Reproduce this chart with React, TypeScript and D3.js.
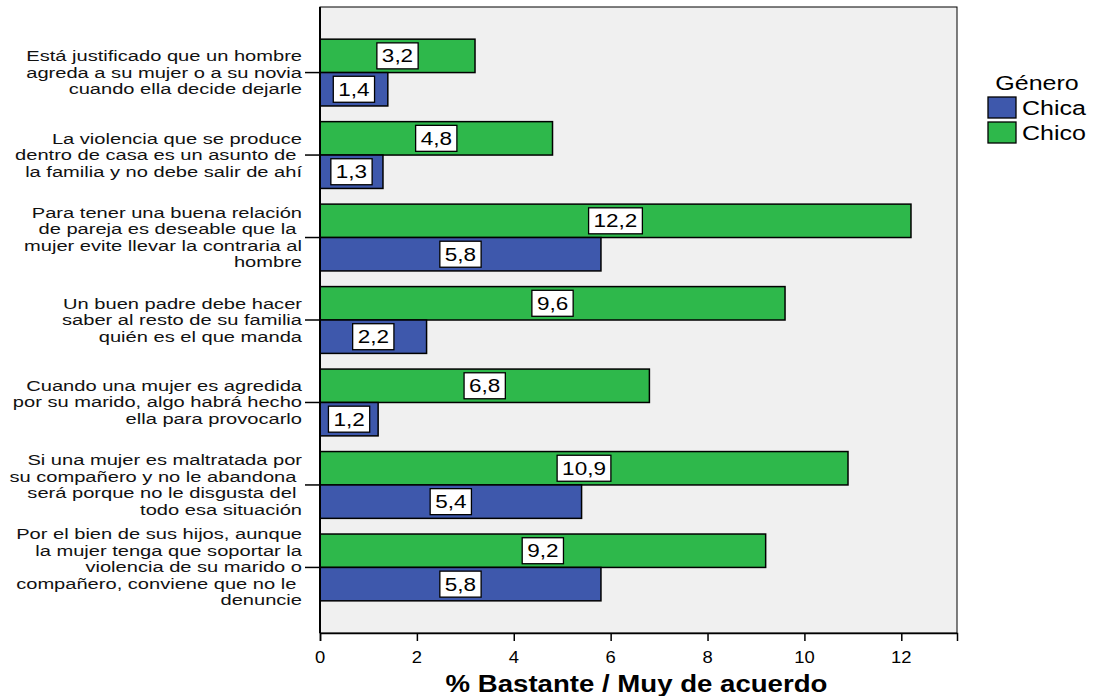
import React, { useEffect, useRef } from 'react';
import * as d3 from 'd3';

// item labels (each line as shown in the original)
const items = [
  ['Está justificado que un hombre', 'agreda a su mujer o a su novia', 'cuando ella decide dejarle'],
  ['La violencia que se produce', 'dentro de casa es un asunto de ', 'la familia y no debe salir de ahí'],
  ['Para tener una buena relación', 'de pareja es deseable que la ', 'mujer evite llevar la contraria al', 'hombre'],
  ['Un buen padre debe hacer', 'saber al resto de su familia', 'quién es el que manda'],
  ['Cuando una mujer es agredida', 'por su marido, algo habrá hecho', 'ella para provocarlo'],
  ['Si una mujer es maltratada por', 'su compañero y no le abandona ', 'será porque no le disgusta del ', 'todo esa situación'],
  ['Por el bien de sus hijos, aunque', 'la mujer tenga que soportar la', 'violencia de su marido o', 'compañero, conviene que no le ', 'denuncie'],
];
const chico = [3.2, 4.8, 12.2, 9.6, 6.8, 10.9, 9.2];
const chica = [1.4, 1.3, 5.8, 2.2, 1.2, 5.4, 5.8];
const xTicks = [0, 2, 4, 6, 8, 10, 12];
const seriesNames = ['Chica', 'Chico'];
const colors = ['#3E58AC', '#2EB84B'];

const font = 'Liberation Sans, Arial, sans-serif';

// text that is stretched horizontally like the original rendering
const wideText = (parent, x, y, str, size, sx, anchor = 'start', weight = 'normal') =>
  parent.append('text')
    .attr('transform', `translate(${x},${y}) scale(${sx},1)`)
    .attr('text-anchor', anchor).attr('font-family', font).attr('font-size', size)
    .attr('font-weight', weight).style('white-space', 'pre').attr('fill', '#000')
    .text(str);

const App = () => {
  const svgRef = useRef(null);

  useEffect(() => {
    const W = 1093, H = 696;
    const m = { top: 7, right: 136, bottom: 63, left: 320 };
    const svg = d3.select(svgRef.current);
    svg.selectAll('*').remove();

    const x = d3.scaleLinear().domain([0, 13.15]).range([m.left, W - m.right]);
    const idx = d3.range(items.length);
    const y = d3.scaleBand().domain(idx.map(String)).range([m.top, H - m.bottom])
      .paddingInner(0.19).paddingOuter(0.39);

    svg.append('rect').attr('x', m.left).attr('y', m.top)
      .attr('width', W - m.right - m.left).attr('height', H - m.bottom - m.top)
      .attr('fill', '#F0F0F0').attr('stroke', '#000').attr('stroke-width', 1);

    const bh = y.bandwidth() / 2;
    const g = svg.append('g');
    idx.forEach((i) => {
      const y0 = y(String(i));
      [[chico[i], 1, y0], [chica[i], 0, y0 + bh]].forEach(([v, s, yy]) => {
        g.append('rect').attr('x', x(0)).attr('y', yy)
          .attr('width', x(v) - x(0)).attr('height', bh)
          .attr('fill', colors[s]).attr('stroke', '#000').attr('stroke-width', 1.5);
        const label = d3.format('.1f')(v).replace('.', ',');
        const cx = (x(0) + x(v)) / 2;
        const box = g.append('rect').attr('y', yy + bh / 2 - 13).attr('height', 26)
          .attr('fill', '#fff').attr('stroke', '#000').attr('stroke-width', 1.3);
        const t = wideText(g, cx, yy + bh / 2 + 6.5, label, 18, 1.25, 'middle');
        const tw = t.node().getBBox().width * 1.25;
        const bw = tw + 10;
        box.attr('x', cx - bw / 2).attr('width', bw);
      });
    });

    // y-axis ticks and labels
    idx.forEach((i) => {
      const cy = y(String(i)) + bh;
      svg.append('line').attr('x1', 305).attr('x2', m.left).attr('y1', cy).attr('y2', cy)
        .attr('stroke', '#000').attr('stroke-width', 1.5);
      const lines = items[i];
      const lh = 16.5;
      lines.forEach((l, k) => {
        wideText(svg, 302, cy + (k - (lines.length - 1) / 2) * lh + 5, l, 15, 1.34, 'end')
          .attr('fill', '#111');
      });
    });
    svg.append('line').attr('x1', m.left).attr('x2', m.left).attr('y1', m.top).attr('y2', H - m.bottom)
      .attr('stroke', '#000').attr('stroke-width', 2);

    // x axis
    const xAxis = d3.axisBottom(x).tickValues(xTicks).tickSize(8).tickPadding(6).tickFormat(() => '');
    const ax = svg.append('g').attr('transform', `translate(0,${H - m.bottom})`).call(xAxis);
    ax.select('.domain').attr('stroke-width', 1.5);
    ax.selectAll('line').attr('stroke-width', 1.5);
    xTicks.forEach((tv) => {
      wideText(svg, x(tv), H - m.bottom + 30, String(tv), 16, 1.15, 'middle');
    });

    wideText(svg, (m.left + W - m.right) / 2 - 2, 692, '% Bastante / Muy de acuerdo', 24, 1.15, 'middle', 'bold');

    // legend
    const lg = svg.append('g');
    wideText(lg, 1037, 90, 'Género', 20, 1.25, 'middle');
    seriesNames.forEach((n, k) => {
      lg.append('rect').attr('x', 988).attr('y', 97 + k * 25).attr('width', 28).attr('height', 21)
        .attr('fill', colors[k]).attr('stroke', '#000').attr('stroke-width', 1.3);
      wideText(lg, 1022, 115 + k * 25, n, 20, 1.25);
    });
  }, []);

  return <svg ref={svgRef} width={1093} height={696} style={{ position: 'absolute', left: 0, top: 0 }}></svg>;
};

export default App;
